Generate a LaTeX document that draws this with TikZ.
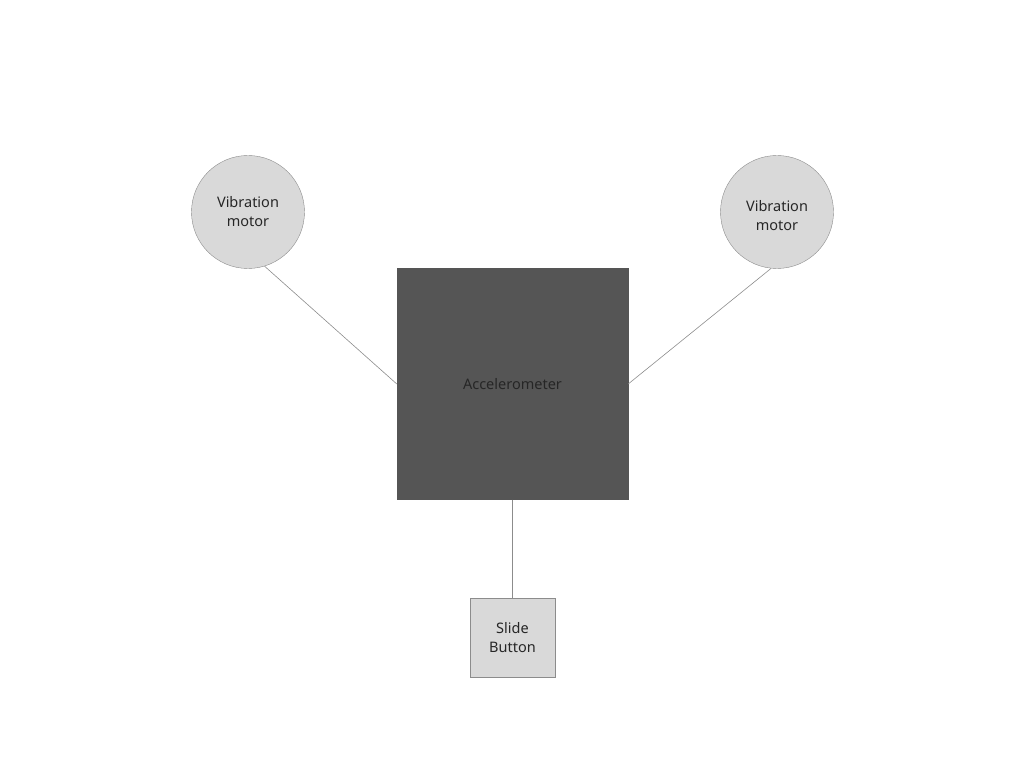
\documentclass[tikz,border=0pt]{standalone}
\usepackage{fontspec}
\setmainfont{Noto Sans}
\usetikzlibrary{positioning}

\definecolor{partfill}{HTML}{D9D9D9}
\definecolor{partline}{HTML}{8C8C8C}
\definecolor{chipfill}{HTML}{555555}
\definecolor{labeltext}{HTML}{262626}

\tikzset{
  motor/.style={circle, draw=partline, fill=partfill, minimum size=113pt,
    inner sep=0pt, align=center, text=labeltext,
    font=\fontsize{14.5}{19}\selectfont},
  chip/.style={rectangle, draw=chipfill, fill=chipfill, minimum size=231pt,
    inner sep=0pt, text=labeltext, font=\fontsize{14.5}{19}\selectfont},
  switch/.style={rectangle, draw=partline, fill=partfill, minimum width=85pt,
    minimum height=79pt, inner sep=0pt, align=center, text=labeltext,
    font=\fontsize{14.5}{19}\selectfont},
  wire/.style={draw=partline, line width=0.6pt}
}

\begin{document}
\begin{tikzpicture}[x=1pt, y=1pt]

  % page frame
  \useasboundingbox (0, 0) rectangle (1024, 768);

  % parts
  \node[chip] (acc) at (512.5, 384) {Accelerometer};
  \node[motor] (leftmotor) at (248, 556) {Vibration\\motor};
  \node[motor] (rightmotor) at (777, 556)
    {\begin{tabular}{@{}c@{}}\mbox{}\\[-9pt]Vibration\\motor\end{tabular}};
  \node[switch] (slide) at (512.5, 130.5) {Slide\\Button};

  % wires
  \draw[wire] (leftmotor.-73) -- (acc.west);
  \draw[wire] (rightmotor.-96) -- (acc.east);
  \draw[wire] (acc.south) -- (slide.north);

\end{tikzpicture}
\end{document}
